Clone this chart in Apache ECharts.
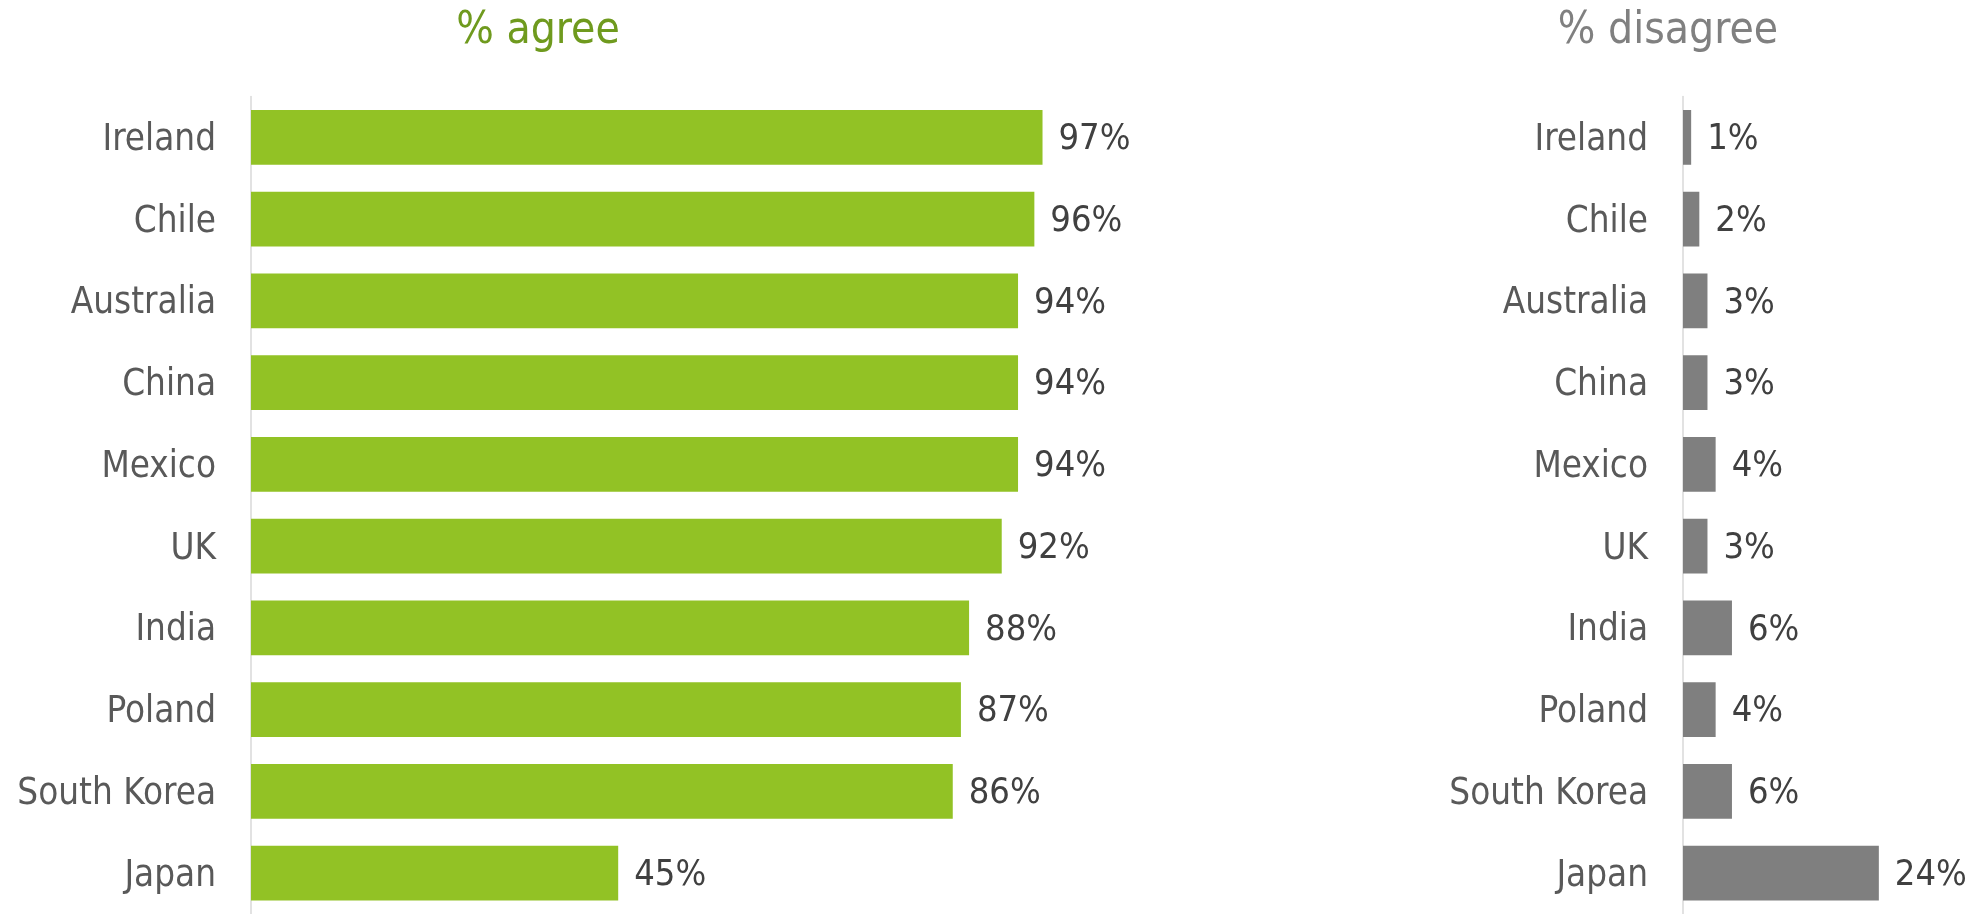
<!DOCTYPE html>
<html>
<head>
<meta charset="utf-8">
<script src="https://cdn.jsdelivr.net/npm/echarts@6/dist/echarts.min.js"></script>
<style>
  html, body { margin: 0; padding: 0; background: #ffffff; }
  #chart { width: 1975px; height: 914px; }
</style>
</head>
<body>
<div id="chart"></div>
<script>
const countries = ['Ireland', 'Chile', 'Australia', 'China', 'Mexico', 'UK', 'India', 'Poland', 'South Korea', 'Japan'];
const agreeValues = [97, 96, 94, 94, 94, 92, 88, 87, 86, 45];
const disagreeValues = [1, 2, 3, 3, 4, 3, 6, 4, 6, 24];
const panelTitles = ['% agree', '% disagree'];

const FONT = "'DejaVu Sans Condensed', 'DejaVu Sans', sans-serif";
const chart = echarts.init(document.getElementById('chart'), null, { renderer: 'canvas' });

function catAxis(gridIndex) {
  return {
    type: 'category',
    gridIndex: gridIndex,
    data: countries,
    inverse: true,
    axisLine: { show: true, lineStyle: { color: '#d9d9d9', width: 1.5 } },
    axisTick: { show: false },
    axisLabel: {
      margin: 35,
      formatter: function (v) { return '{c|' + v + '}'; },
      rich: {
        c: { color: '#595959', fontSize: 36.5, fontFamily: FONT, padding: [6, 0, 0, 0] }
      }
    },
    splitLine: { show: false }
  };
}
function valAxis(gridIndex, max) {
  return {
    type: 'value',
    gridIndex: gridIndex,
    min: 0,
    max: max,
    show: false,
    splitLine: { show: false }
  };
}
function barSeries(idx, values, color) {
  return {
    type: 'bar',
    xAxisIndex: idx,
    yAxisIndex: idx,
    data: values,
    barCategoryGap: '33%',
    itemStyle: { color: color },
    label: {
      show: true,
      position: 'right',
      distance: 16,
      offset: [0, 2.5],
      formatter: '{c}%',
      color: '#404040',
      fontSize: 36,
      fontFamily: FONT
    },
    silent: true,
    animation: false
  };
}

chart.setOption({
  backgroundColor: '#ffffff',
  animation: false,
  title: [
    { text: panelTitles[0], left: 533, top: 5, textAlign: 'center',
      textStyle: { color: '#6f9a1e', fontSize: 44, fontWeight: 'normal', fontFamily: FONT } },
    { text: panelTitles[1], left: 1663, top: 5, textAlign: 'center',
      textStyle: { color: '#808080', fontSize: 44, fontWeight: 'normal', fontFamily: FONT } }
  ],
  grid: [
    { left: 251, top: 96.5, width: 816, height: 821 },
    { left: 1683, top: 96.5, width: 285.6, height: 821 }
  ],
  xAxis: [valAxis(0, 100), valAxis(1, 35)],
  yAxis: [catAxis(0), catAxis(1)],
  series: [
    barSeries(0, agreeValues, '#92c225'),
    barSeries(1, disagreeValues, '#7f7f7f')
  ]
});
</script>
</body>
</html>
